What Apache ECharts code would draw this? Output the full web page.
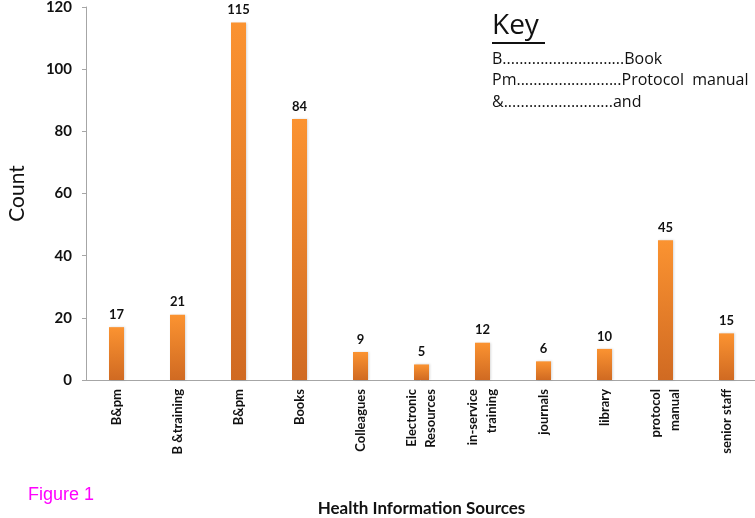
<!DOCTYPE html>
<html>
<head>
<meta charset="utf-8">
<script src="https://cdn.jsdelivr.net/npm/echarts@6/dist/echarts.min.js"></script>
<style>html,body{margin:0;padding:0;background:#fff;}#c{width:755px;height:518px;}</style>
</head>
<body>
<div id="c"></div>
<script>
const categories = ["B&pm", "B &training", "B&pm", "Books", "Colleagues", "Electronic\nResources", "in-service\ntraining", "journals", "library", "protocol\nmanual", "senior staff"];
const counts = [17, 21, 115, 84, 9, 5, 12, 6, 10, 45, 15];
const yTicks = [0, 20, 40, 60, 80, 100, 120];
const keyLines = ["B.............................Book", "Pm.........................Protocol  manual", "&..........................and"];

const font = "Lato, 'Open Sans', sans-serif";
const keyFont = "'Open Sans', sans-serif";
const chart = echarts.init(document.getElementById('c'));
chart.setOption({
  animation: false,
  backgroundColor: '#fff',
  grid: { left: 86, top: 7, width: 671, height: 373, containLabel: false, outerBoundsMode: 'none' },
  xAxis: {
    type: 'category',
    data: categories.map((c, i) => ({ value: c + '\u200b'.repeat(i) })),
    axisLine: { lineStyle: { color: '#a6a6a6', width: 1 } },
    axisTick: { show: false },
    axisLabel: {
      rotate: 90, interval: 0, fontFamily: font, fontWeight: 'bold', fontSize: 13,
      color: '#111', margin: 9, lineHeight: 19
    },
    name: 'Health Information Sources',
    nameLocation: 'middle', nameGap: 120,
    nameTextStyle: { fontFamily: font, fontWeight: 'bold', fontSize: 17, color: '#111' }
  },
  yAxis: {
    type: 'value', min: yTicks[0], max: yTicks[yTicks.length - 1], interval: 20,
    axisLine: { show: true, lineStyle: { color: '#a6a6a6', width: 1 } },
    axisTick: { show: true, length: 4, lineStyle: { color: '#a6a6a6' } },
    splitLine: { show: false },
    axisLabel: { fontFamily: font, fontWeight: 'bold', fontSize: 15, color: '#111', margin: 14 },
    name: 'Count', nameLocation: 'middle', nameGap: 58, nameRotate: 90,
    nameTextStyle: { fontFamily: font, fontSize: 21, color: '#111' }
  },
  series: [{
    type: 'bar',
    data: counts,
    barWidth: 15,
    itemStyle: {
      color: new echarts.graphic.LinearGradient(0, 0, 0, 1, [
        { offset: 0, color: '#fb9331' },
        { offset: 1, color: '#d06a22' }
      ]),
      shadowColor: 'rgba(0,0,0,0.15)', shadowBlur: 2, shadowOffsetX: 1
    },
    label: {
      show: true, position: 'top', distance: 6,
      fontFamily: font, fontWeight: 'bold', fontSize: 13, color: '#111'
    }
  }],
  graphic: [
    { type: 'text', left: 492, top: 12, style: { text: 'Key', font: "28px " + keyFont, fill: '#111' } },
    { type: 'rect', shape: { x: 492, y: 42, width: 53, height: 2 }, style: { fill: '#111' } },
    { type: 'text', left: 492, top: 51, style: { text: keyLines[0], font: "16px " + keyFont, fill: '#111' } },
    { type: 'text', left: 492, top: 72, style: { text: keyLines[1], font: "16px " + keyFont, fill: '#111' } },
    { type: 'text', left: 492, top: 94, style: { text: keyLines[2], font: "16px " + keyFont, fill: '#111' } },
    { type: 'text', left: 28, top: 486, style: { text: 'Figure 1', font: "18px 'Liberation Sans', Arial, sans-serif", fill: '#ff00ff' } }
  ]
});
</script>
</body>
</html>
